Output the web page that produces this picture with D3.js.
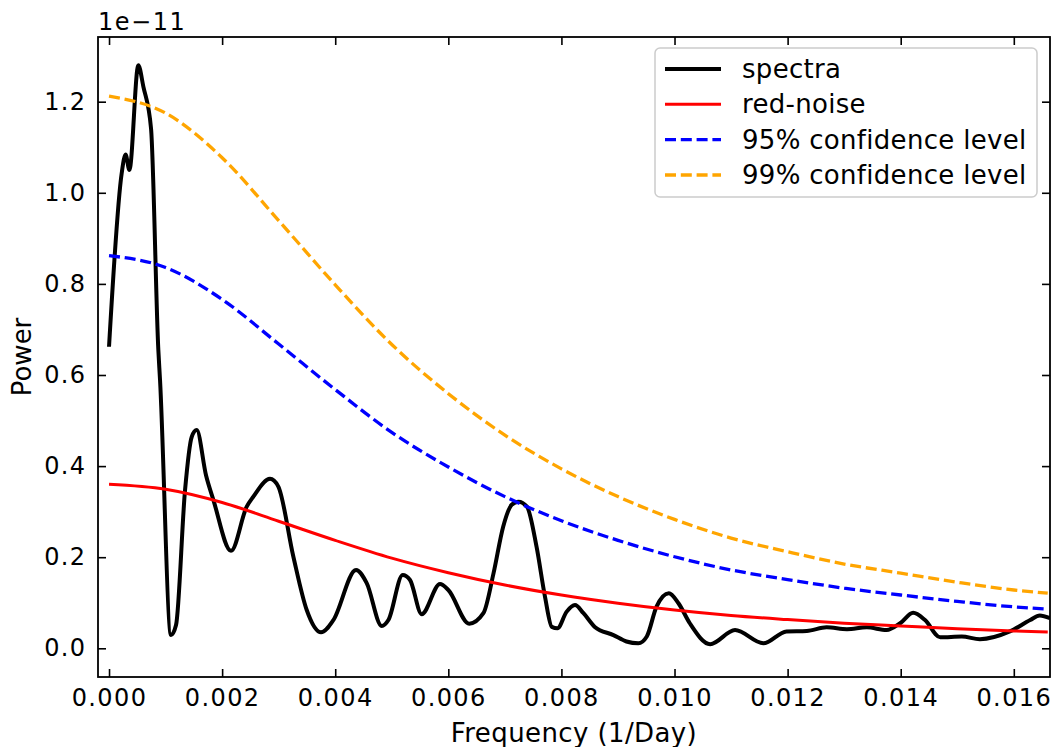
<!DOCTYPE html>
<html>
<head>
<meta charset="utf-8">
<script src="https://cdn.jsdelivr.net/npm/d3@7"></script>
<style>
  body { margin: 0; background: #fff; }
  svg { display: block; }
  text { font-family: "DejaVu Sans", sans-serif; fill: #000; }
</style>
</head>
<body>
<svg id="chart" width="1054" height="747"></svg>
<script>
// ---- data (power in units of 1e-11) ----
const specFreq = [0, 0.000224, 0.000293, 0.000360, 0.000518, 0.000607, 0.000743, 0.000872, 0.000902,
  0.001096, 0.001185, 0.001344, 0.001462, 0.00155, 0.001715, 0.001845, 0.002157, 0.002435, 0.002552,
  0.002847, 0.002994, 0.00326, 0.003496, 0.003749, 0.003967, 0.004368, 0.004557, 0.004822, 0.00494,
  0.005193, 0.005323, 0.005529, 0.005853, 0.006, 0.00637, 0.00662, 0.0068, 0.00697, 0.00712, 0.00724,
  0.00739, 0.00756, 0.00771, 0.00783, 0.00793, 0.00809, 0.00824, 0.00839, 0.00859, 0.00892, 0.00915,
  0.00936, 0.00951, 0.00968, 0.0099, 0.01007, 0.01027, 0.01063, 0.01107, 0.01157, 0.01198, 0.01234,
  0.01269, 0.01305, 0.0134, 0.01375, 0.01399, 0.01422, 0.01443, 0.0147, 0.01508, 0.0154, 0.01593,
  0.01629, 0.01646, 0.01664];
const specPower = [0.662, 1.043, 1.084, 1.050, 1.280, 1.233, 1.141, 0.655, 0.589,
  0.029, 0.051, 0.347, 0.464, 0.479, 0.380, 0.326, 0.214, 0.311, 0.333,
  0.372, 0.355, 0.201, 0.084, 0.035, 0.062, 0.172, 0.143, 0.049, 0.062,
  0.161, 0.150, 0.075, 0.141, 0.128, 0.054, 0.077, 0.165, 0.267, 0.315, 0.322,
  0.311, 0.223, 0.113, 0.047, 0.044, 0.080, 0.095, 0.077, 0.047, 0.029, 0.015,
  0.011, 0.026, 0.091, 0.121, 0.099, 0.055, 0.009, 0.040, 0.011, 0.037, 0.038,
  0.046, 0.042, 0.046, 0.040, 0.055, 0.078, 0.062, 0.024, 0.026, 0.020, 0.037,
  0.062, 0.072, 0.066];

const levelFreq = [0, 0.001, 0.002, 0.003, 0.004, 0.005, 0.006, 0.007, 0.008, 0.009,
  0.010, 0.011, 0.012, 0.013, 0.014, 0.015, 0.016, 0.0166];
const redNoise = [0.360, 0.349, 0.320, 0.279, 0.237, 0.198, 0.166, 0.139, 0.117, 0.099,
  0.084, 0.072, 0.063, 0.055, 0.049, 0.043, 0.038, 0.036];
const conf95 = [0.862, 0.836, 0.766, 0.668, 0.568, 0.474, 0.398, 0.333, 0.280, 0.237,
  0.201, 0.172, 0.151, 0.132, 0.117, 0.103, 0.091, 0.086];
const conf99 = [1.212, 1.175, 1.077, 0.939, 0.798, 0.667, 0.559, 0.468, 0.394, 0.333,
  0.283, 0.242, 0.212, 0.185, 0.165, 0.145, 0.128, 0.121];

const xTicks = [0, 0.002, 0.004, 0.006, 0.008, 0.010, 0.012, 0.014, 0.016];
const yTicks = [0, 0.2, 0.4, 0.6, 0.8, 1.0, 1.2];
const legendLabels = ["spectra", "red-noise", "95% confidence level", "99% confidence level"];

// ---- layout ----
const L = 98, R = 1050, T = 37, B = 677;
const svg = d3.select("#chart");
const x = d3.scaleLinear().domain([-0.000195, 0.01664]).range([L, R]);
const y = d3.scaleLinear().domain([-0.063, 1.342]).range([B, T]);

svg.append("defs").append("clipPath").attr("id", "clip")
  .append("rect").attr("x", L).attr("y", T).attr("width", R - L).attr("height", B - T);

const plot = svg.append("g").attr("clip-path", "url(#clip)");

const spec = specFreq.map((f, i) => [f, specPower[i]]);
const lineGen = d3.line().x(d => x(d[0])).y(d => y(d[1]));

plot.append("path").datum(spec)
  .attr("d", lineGen.curve(d3.curveMonotoneX)).attr("fill", "none")
  .attr("stroke", "#000").attr("stroke-width", 4).attr("stroke-linejoin", "round");

const series = [
  { vals: redNoise, color: "#ff0000", dash: null, w: 3 },
  { vals: conf95, color: "#0000ff", dash: "11,4.8", w: 3.3 },
  { vals: conf99, color: "#ffa500", dash: "11,4.8", w: 3.3 }
];
series.forEach(s => {
  const data = levelFreq.map((f, i) => [f, s.vals[i]]);
  plot.append("path").datum(data)
    .attr("d", d3.line().x(d => x(d[0])).y(d => y(d[1])).curve(d3.curveMonotoneX))
    .attr("fill", "none").attr("stroke", s.color).attr("stroke-width", s.w)
    .attr("stroke-dasharray", s.dash);
});

// ---- axes (ticks inward on all sides) ----
const tickLen = 8;
const fmtX = d3.format(".3f"), fmtY = d3.format(".1f");

const xb = svg.append("g").attr("transform", `translate(0,${B})`)
  .call(d3.axisBottom(x).tickValues(xTicks).tickFormat(fmtX).tickSizeInner(-tickLen).tickSizeOuter(0).tickPadding(12));
const xt = svg.append("g").attr("transform", `translate(0,${T})`)
  .call(d3.axisTop(x).tickValues(xTicks).tickFormat("").tickSizeInner(-tickLen).tickSizeOuter(0));
const yl = svg.append("g").attr("transform", `translate(${L},0)`)
  .call(d3.axisLeft(y).tickValues(yTicks).tickFormat(fmtY).tickSizeInner(-tickLen).tickSizeOuter(0).tickPadding(11.5));
const yr = svg.append("g").attr("transform", `translate(${R},0)`)
  .call(d3.axisRight(y).tickValues(yTicks).tickFormat("").tickSizeInner(-tickLen).tickSizeOuter(0));

[xb, xt, yl, yr].forEach(g => {
  g.select(".domain").remove();
  g.selectAll(".tick line").attr("stroke", "#000").attr("stroke-width", 1.6);
  g.selectAll(".tick text").attr("font-size", 24).attr("letter-spacing", 1.4)
    .attr("font-family", "DejaVu Sans").attr("fill", "#000");
});

svg.append("rect").attr("x", L).attr("y", T).attr("width", R - L).attr("height", B - T)
  .attr("fill", "none").attr("stroke", "#000").attr("stroke-width", 1.8);

// offset text and labels
svg.append("text").attr("x", L).attr("y", 30).attr("font-size", 24).attr("letter-spacing", 1.5).text("1e\u221211");
svg.append("text").attr("x", (L + R) / 2).attr("y", 742).attr("text-anchor", "middle")
  .attr("font-size", 26).attr("letter-spacing", 0.4).text("Frequency (1/Day)");
svg.append("text").attr("transform", `translate(31,${(T + B) / 2}) rotate(-90)`)
  .attr("text-anchor", "middle").attr("font-size", 26).text("Power");

// ---- legend ----
const leg = svg.append("g");
leg.append("rect").attr("x", 655).attr("y", 48).attr("width", 382).attr("height", 149)
  .attr("rx", 5).attr("fill", "#fff").attr("fill-opacity", 0.8)
  .attr("stroke", "#cccccc").attr("stroke-width", 1.5);
const legStyles = [
  { color: "#000", dash: null, w: 4 },
  { color: "#ff0000", dash: null, w: 3 },
  { color: "#0000ff", dash: "11,4.8", w: 3.3 },
  { color: "#ffa500", dash: "11,4.8", w: 3.3 }
];
const rowY = d3.scaleLinear().domain([0, 3]).range([69, 175]);
legendLabels.forEach((lab, i) => {
  const yy = rowY(i);
  leg.append("line").attr("x1", 665).attr("x2", 721).attr("y1", yy).attr("y2", yy)
    .attr("stroke", legStyles[i].color).attr("stroke-width", legStyles[i].w)
    .attr("stroke-dasharray", legStyles[i].dash);
  leg.append("text").attr("x", 742).attr("y", yy).attr("dy", "0.35em")
    .attr("font-size", 26).attr("letter-spacing", 0.3).text(lab);
});
</script>
</body>
</html>
